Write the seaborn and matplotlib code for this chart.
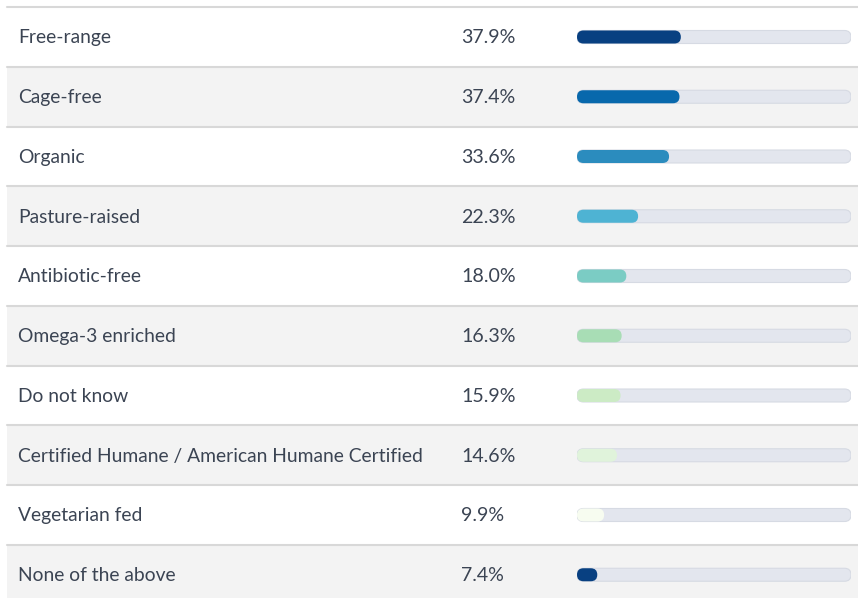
import seaborn as sns
import matplotlib.pyplot as plt
from matplotlib.patches import FancyBboxPatch

labels = ['Free-range', 'Cage-free', 'Organic', 'Pasture-raised', 'Antibiotic-free',
          'Omega-3 enriched', 'Do not know', 'Certified Humane / American Humane Certified',
          'Vegetarian fed', 'None of the above']
values = [37.9, 37.4, 33.6, 22.3, 18.0, 16.3, 15.9, 14.6, 9.9, 7.4]
bar_colors = ['#084081', '#0868ac', '#2b8cbe', '#4eb3d3', '#7bccc4',
              '#a8ddb5', '#ccebc5', '#e0f3db', '#f7fcf0', '#084081']

W, H = 858, 598
row_h = 59.75
first_center = 37
top = (0 - first_center) / row_h
bottom = (H - first_center) / row_h

sns.set_style('white')
plt.rcParams['font.family'] = ['Lato', 'DejaVu Sans']
text_color = '#3b4453'

fig = plt.figure(figsize=(W / 100, H / 100), dpi=100)
ax = fig.add_axes([0, 0, 1, 1])
ax.set_xlim(0, W)
ax.set_ylim(bottom, top)
ax.axis('off')

for i, (lab, v) in enumerate(zip(labels, values)):
    bg = 'white' if i % 2 == 0 else '#f3f3f3'
    ax.fill_between([7, W], i - 0.5, i + 0.5, color=bg, lw=0, zorder=0)
    ax.plot([7, W], [i - 0.5, i - 0.5], color='#d8d8d8', lw=1.5, zorder=1)
    ax.text(18, i + 0.015, lab, ha='left', va='center', fontsize=13.9, color=text_color)
    ax.text(461, i + 0.015, f'{v:.1f}%', ha='left', va='center', fontsize=14.1, color=text_color)

# progress bars
bx0, bw = 577, 274
bax = fig.add_axes([bx0 / W, 0, bw / W, 1])
bax.patch.set_alpha(0)
track = [100] * len(labels)
sns.barplot(x=track, y=labels, color='#e3e6ee', saturation=1, width=13 / row_h, ax=bax, zorder=2)
sns.barplot(x=values, y=labels, hue=labels, palette=bar_colors, saturation=1, legend=False,
            width=13 / row_h, ax=bax, zorder=3)
bax.set_xlim(0, 100)
bax.set_ylim(bottom, top)
bax.axis('off')

x_per_px = 100 / bw
y_per_px = 1 / row_h
for p in list(bax.patches):
    x, y = p.get_x(), p.get_y()
    w, h = p.get_width(), p.get_height()
    fc = p.get_facecolor()
    is_track = abs(w - 100) < 1e-6
    z = p.get_zorder()
    p.remove()
    fb = FancyBboxPatch((x, y), w, h,
                        boxstyle=f'round,pad=0,rounding_size={6.5 * x_per_px}',
                        mutation_aspect=y_per_px / x_per_px,
                        facecolor=fc,
                        edgecolor='#d6dae3' if is_track else 'none',
                        lw=0.8, zorder=z)
    bax.add_patch(fb)

fig.savefig('out.png', dpi=100)
